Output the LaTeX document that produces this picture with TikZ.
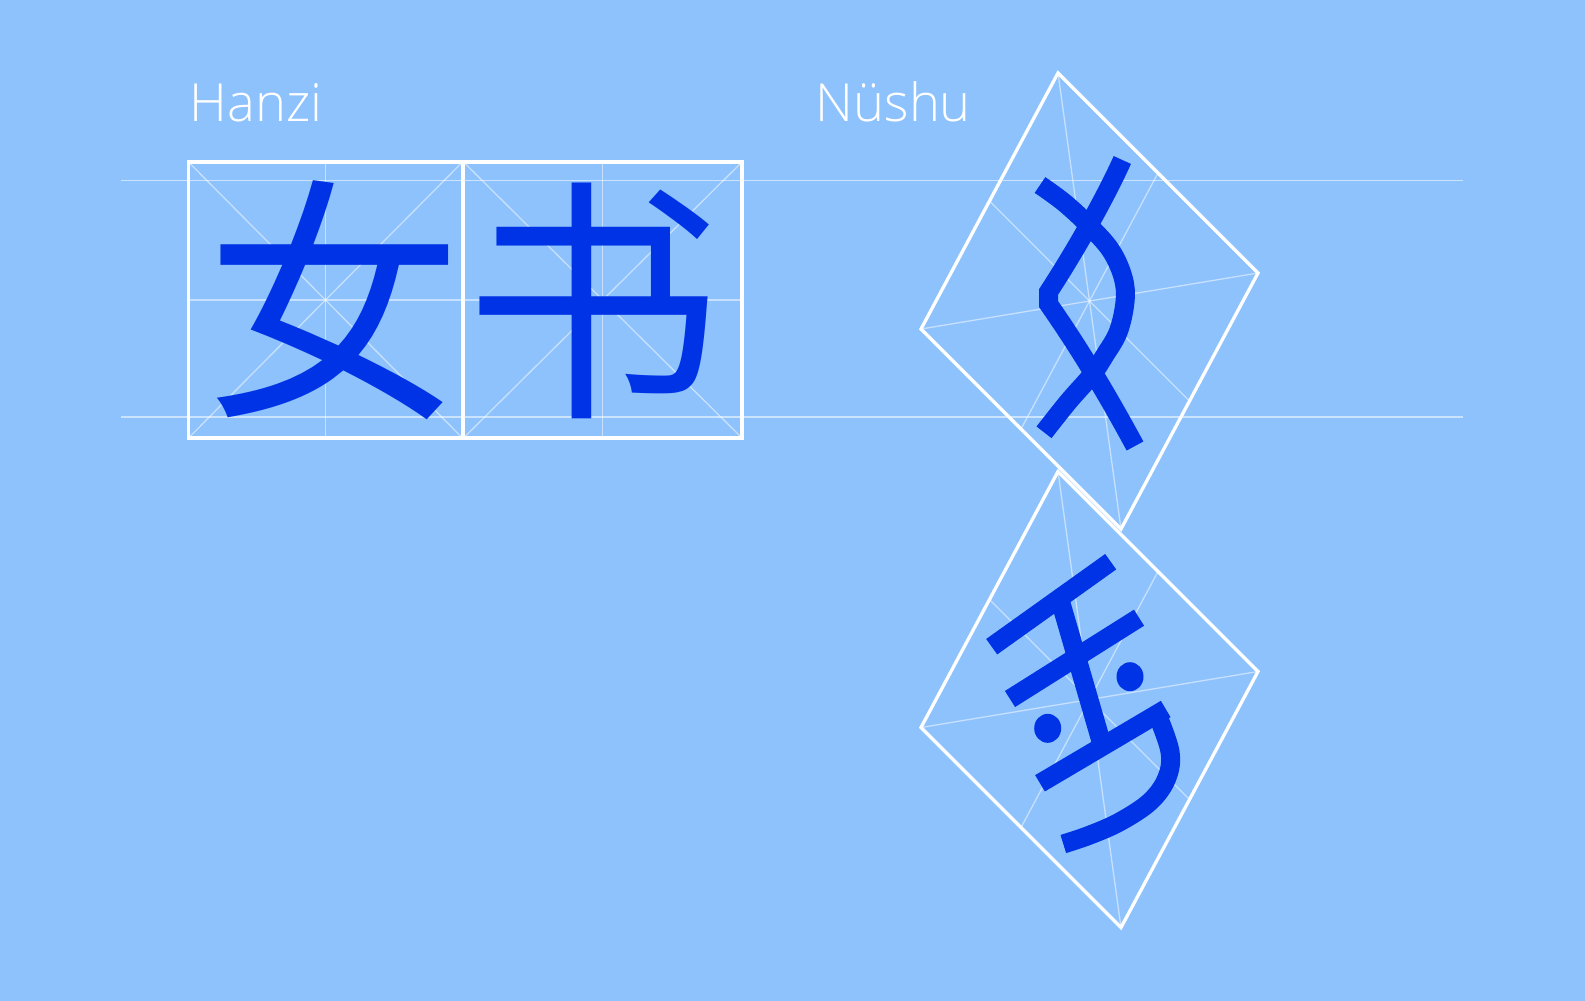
\documentclass[tikz,border=0pt]{standalone}
\usepackage{fontspec}
\setmainfont{Open Sans Light}
\newfontfamily\cjkfont{Noto Sans CJK SC}
\usetikzlibrary{calc}
\definecolor{Sky}{HTML}{8EC2FC}
\definecolor{Ink}{HTML}{0033E6}
\tikzset{
  frame/.style={draw=white, line width=3.3pt},
  gridline/.style={draw=white, draw opacity=0.5, line width=1.3pt},
  guide/.style={draw=white, draw opacity=0.55, line width=1.4pt},
  caption/.style={text=white, font=\fontsize{52.5}{60}\selectfont, inner sep=0pt, anchor=base west},
  hanzi/.style={text=Ink, font=\cjkfont\fontsize{257.5}{258}\selectfont, inner sep=0pt, anchor=north},
  nustroke/.style={draw=Ink, line width=19pt, line cap=butt},
  nudot/.style={fill=Ink}
}
\begin{document}
\begin{tikzpicture}[x=1pt,y=-1pt]
  \fill[Sky] (0,0) rectangle (1585,1001);
  \useasboundingbox (0,0) rectangle (1585,1001);

  % guide lines
  \coordinate (top-w) at (121,180.5);
  \coordinate (top-e) at (1463,180.5);
  \coordinate (bot-w) at (121,417);
  \coordinate (bot-e) at (1463,417);
  \draw[guide] (top-w) -- (top-e);
  \draw[guide] (bot-w) -- (bot-e);

  % labels
  \node[caption] (hanzi) at (189.5,121.3) {Hanzi};
  \node[caption] (nushu) at (815.5,121.3) {Nüshu};

  % Hanzi boxes
  \foreach \name/\xa/\xb in {boxnv/188.5/462.5,boxshu/463.5/742} {
    \coordinate (\name-nw) at (\xa,162);
    \coordinate (\name-se) at (\xb,438);
    \coordinate (\name-ne) at (\xb,162);
    \coordinate (\name-sw) at (\xa,438);
    \draw[gridline] (\name-nw) -- (\name-se) (\name-ne) -- (\name-sw);
    \draw[gridline] ($(\name-nw)!0.5!(\name-ne)$) -- ($(\name-sw)!0.5!(\name-se)$);
    \draw[gridline] ($(\name-nw)!0.5!(\name-sw)$) -- ($(\name-ne)!0.5!(\name-se)$);
    \draw[frame] (\name-nw) rectangle (\name-se);
  }
  \node[hanzi] (nv) at (334,180) {女};
  \node[hanzi] (shu) at (593,182.7) {书};

  % Nushu frames
  \foreach \name/\dy in {rhup/0,rhdn/398.5} {
    \coordinate (\name-t) at (1058,73+\dy);
    \coordinate (\name-r) at (1258,273+\dy);
    \coordinate (\name-b) at (1121,529+\dy);
    \coordinate (\name-l) at (921,329+\dy);
    \draw[gridline] (\name-t) -- (\name-b) (\name-l) -- (\name-r);
    \draw[gridline] ($(\name-t)!0.5!(\name-l)$) -- ($(\name-r)!0.5!(\name-b)$);
    \draw[gridline] ($(\name-t)!0.5!(\name-r)$) -- ($(\name-l)!0.5!(\name-b)$);
    \draw[frame] (\name-t) -- (\name-r) -- (\name-b) -- (\name-l) -- cycle;
  }

  % upper Nushu glyph
  \draw[nustroke] (1122.3,160) .. controls (1104.3,200) and (1074.5,252) .. (1048.5,292)
    -- (1048.5,304) .. controls (1075,342) and (1102,385) .. (1135,446);
  \draw[nustroke] plot[smooth, tension=0.6] coordinates {(1040,185) (1065,203.3) (1091.7,228.3)
    (1111.7,251.7) (1123.3,278.3) (1125,301.7) (1118.3,331.7) (1105,355) (1091.7,375)
    (1068.3,401.7) (1044,432.3)};

  % lower Nushu glyph
  \draw[nustroke] (991.7,646.7) -- (1110.7,561.7);
  \draw[nustroke] (1010,699) -- (1139,617.7);
  \draw[nustroke] (1060,600) -- (1103,748);
  \draw[nustroke] (1040,783.3) -- (1165.7,709);
  \draw[nustroke] plot[smooth, tension=0.6] coordinates {(1157,714) (1170,751.7)
    (1166.7,778.3) (1150,801.7) (1120,821.7) (1090,835) (1063.3,844)};
  \fill[nudot] (1130,676.7) ellipse [x radius=13.5, y radius=14.5];
  \fill[nudot] (1047.7,728.3) ellipse [x radius=13.5, y radius=14.5];
\end{tikzpicture}
\end{document}
